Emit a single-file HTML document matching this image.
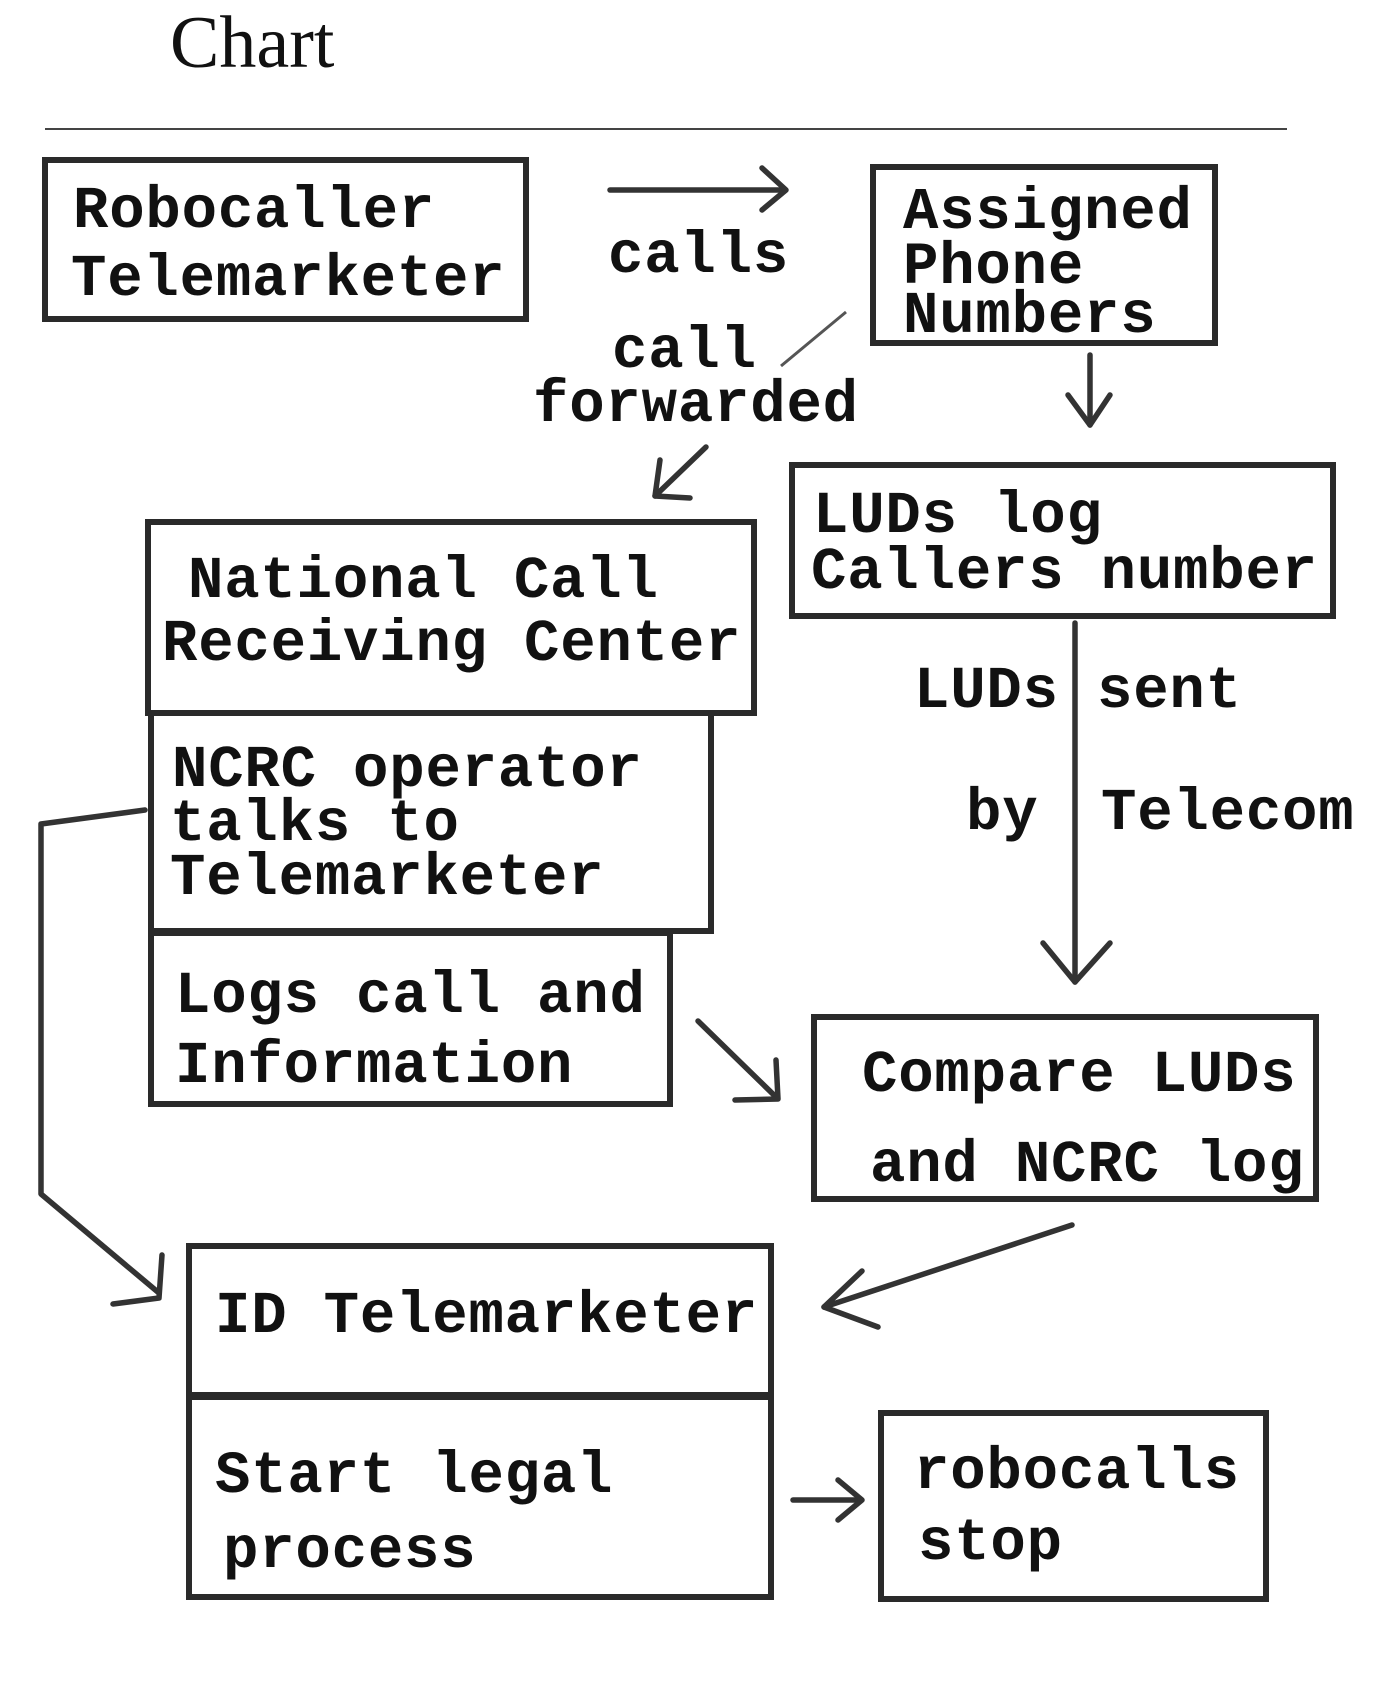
<!DOCTYPE html>
<html><head><meta charset="utf-8"><style>
html,body{margin:0;padding:0;background:#fff;}
svg{display:block;}
.t{font-family:"Liberation Mono",monospace;font-weight:bold;font-size:59px;letter-spacing:0.8px;fill:#111;}
.b{fill:none;stroke:#2a2a2a;stroke-width:6;}
.l{fill:none;stroke:#333;stroke-width:5.5;stroke-linecap:round;stroke-linejoin:round;}
</style></head><body>
<svg width="1379" height="1703" viewBox="0 0 1379 1703" xmlns="http://www.w3.org/2000/svg">
<text x="170" y="67" style="font-family:'Liberation Serif',serif;font-size:74px;fill:#111">Chart</text>
<line x1="45" y1="129" x2="1287" y2="129" stroke="#444" stroke-width="2"/>
<g transform="translate(0,3)">
<text class="t" x="73" y="224">Robocaller</text>
<text class="t" x="71" y="292">Telemarketer</text>
<text class="t" x="608" y="269">calls</text>
<text class="t" x="903" y="225">Assigned</text>
<text class="t" x="903" y="280">Phone</text>
<text class="t" x="903" y="329">Numbers</text>
<text class="t" x="612" y="364">call</text>
<text class="t" x="533" y="418">forwarded</text>
<text class="t" x="188" y="594">National Call</text>
<text class="t" x="162" y="657">Receiving Center</text>
<text class="t" x="813" y="529">LUDs log</text>
<text class="t" x="811" y="585">Callers number</text>
<text class="t" x="914" y="704">LUDs</text>
<text class="t" x="1097" y="704">sent</text>
<text class="t" x="966" y="826">by</text>
<text class="t" x="1101" y="826">Telecom</text>
<text class="t" x="172" y="783">NCRC operator</text>
<text class="t" x="170" y="837">talks to</text>
<text class="t" x="170" y="891">Telemarketer</text>
<text class="t" x="175" y="1009">Logs call and</text>
<text class="t" x="175" y="1079">Information</text>
<text class="t" x="862" y="1088">Compare LUDs</text>
<text class="t" x="870" y="1178">and NCRC log</text>
<text class="t" x="215" y="1329">ID Telemarketer</text>
<text class="t" x="215" y="1489">Start legal</text>
<text class="t" x="223" y="1564">process</text>
<text class="t" x="914" y="1485">robocalls</text>
<text class="t" x="918" y="1556">stop</text>
</g>
<rect class="b" x="45" y="160" width="481" height="159"/>
<line class="l" x1="610" y1="190" x2="784" y2="190"/>
<polyline class="l" points="762,168 786,190 762,210"/>
<rect class="b" x="873" y="167" width="342" height="176"/>
<line x1="846" y1="312" x2="781" y2="366" stroke="#555" stroke-width="3"/>
<line class="l" x1="1090" y1="355" x2="1090" y2="425"/>
<polyline class="l" points="1068,395 1090,425 1110,395"/>
<line class="l" x1="706" y1="447" x2="655" y2="496"/>
<polyline class="l" points="660,460 655,496 690,498"/>
<rect class="b" x="148" y="522" width="606" height="191"/>
<rect class="b" x="792" y="465" width="541" height="151"/>
<line class="l" x1="1075" y1="623" x2="1075" y2="982"/>
<polyline class="l" points="1043,943 1075,982 1110,943"/>
<rect class="b" x="151" y="713" width="560" height="218"/>
<rect class="b" x="151" y="933" width="519" height="171"/>
<line class="l" x1="698" y1="1021" x2="776" y2="1097"/>
<polyline class="l" points="776,1060 778,1099 735,1100"/>
<rect class="b" x="814" y="1017" width="502" height="182"/>
<polyline class="l" points="145,810 41,824 41,1194 159,1293"/>
<polyline class="l" points="162,1255 159,1298 113,1304"/>
<line class="l" x1="1072" y1="1225" x2="824" y2="1307"/>
<polyline class="l" points="862,1271 824,1307 878,1327"/>
<rect class="b" x="189" y="1246" width="582" height="149"/>
<rect class="b" x="189" y="1397" width="582" height="200"/>
<line class="l" x1="793" y1="1500" x2="860" y2="1500"/>
<polyline class="l" points="838,1480 862,1500 838,1520"/>
<rect class="b" x="881" y="1413" width="385" height="186"/>
</svg>
</body></html>
